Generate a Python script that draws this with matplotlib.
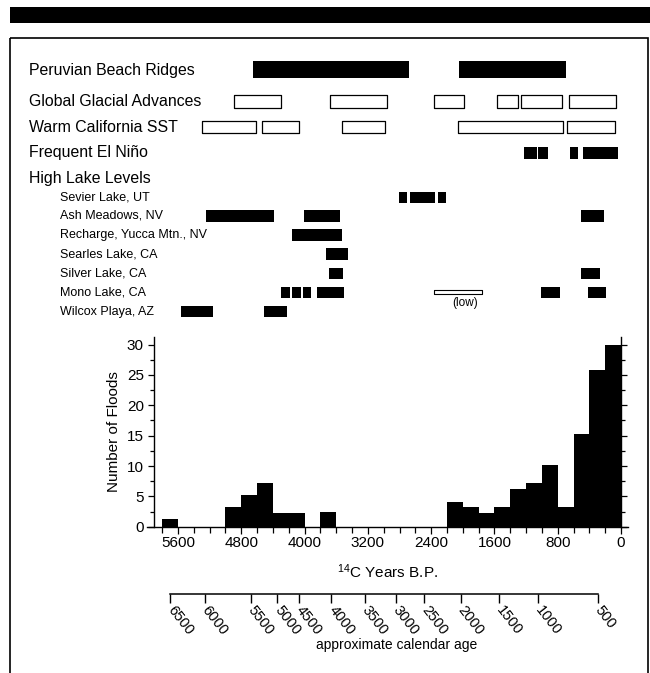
import matplotlib
matplotlib.use('Agg')
import matplotlib.pyplot as plt
from matplotlib.patches import Rectangle
from matplotlib.ticker import MultipleLocator, FixedLocator, FixedFormatter

plt.rcParams['font.family'] = ['Liberation Sans', 'DejaVu Sans']
plt.rcParams['mathtext.fontset'] = 'custom'
plt.rcParams['mathtext.rm'] = 'Liberation Sans'
plt.rcParams['mathtext.it'] = 'Liberation Sans:italic'

# ---------------- data ----------------
# histogram of floods, 200-yr bins (younger edge, 14C yr BP)
bin_young = [5600, 5400, 5200, 5000, 4800, 4600, 4400, 4200, 4000, 3800,
             3600, 3400, 3200, 3000, 2800, 2600, 2400, 2200, 2000, 1800,
             1600, 1400, 1200, 1000, 800, 600, 400, 200, 0]
flood_counts = [1.3, 0, 0, 0, 3.3, 5.3, 7.2, 2.3, 2.3, 0,
                2.4, 0, 0, 0, 0, 0, 0, 0, 4.1, 3.2,
                2.3, 3.2, 6.2, 7.2, 10.1, 3.3, 15.2, 25.8, 30.0]
bin_width = 200

x_ticks_major = [5600, 4800, 4000, 3200, 2400, 1600, 800, 0]

# calendar-age axis: label and its position on the 14C scale
cal_ages = [6500, 6000, 5500, 5000, 4500, 4000, 3500, 3000, 2500, 2000, 1500, 1000, 500]
cal_pos_14c = [5700, 5260, 4680, 4345, 4070, 3660, 3235, 2845, 2485, 2025, 1540, 1045, 295]

# climate records (start, end) in 14C yr BP
peru_beach = [(4650, 2675), (2045, 695)]
glacial_adv = [(4890, 4300), (3680, 2955), (2360, 1980), (1570, 1305), (1265, 750), (655, 65)]
warm_sst = [(5300, 4615), (4540, 4065), (3530, 2985), (2055, 730), (685, 75)]
el_nino = [(1225, 1065), (1045, 920), (645, 540), (475, 35)]

sevier = [(2805, 2710), (2670, 2350), (2310, 2210)]
ash_meadows = [(5245, 4385), (4010, 3550), (510, 215)]
recharge_yucca = [(4165, 3530)]
searles = [(3730, 3455)]
silver = [(3690, 3510), (510, 265)]
mono_high = [(4300, 4185), (4155, 4045), (4015, 3925), (3845, 3500), (1015, 770), (415, 190)]
mono_low = [(2360, 1755)]
wilcox = [(5565, 5155), (4515, 4220)]

main_labels = ["Peruvian Beach Ridges", "Global Glacial Advances",
               "Warm California SST", "Frequent El Niño", "High Lake Levels"]
lake_labels = ["Sevier Lake, UT", "Ash Meadows, NV", "Recharge, Yucca Mtn., NV",
               "Searles Lake, CA", "Silver Lake, CA", "Mono Lake, CA", "Wilcox Playa, AZ"]

# ---------------- layout ----------------
W, H = 650, 673
X0_PX, PX_PER_YR = 621.0, 443.0 / 5600.0


def yr_at(px):
    return (X0_PX - px) / PX_PER_YR


def fx(px):
    return px / W


def fy(py):
    return 1 - py / H


fig = plt.figure(figsize=(6.5, 6.73), dpi=100)

# background layout axes in pixel units
ax_bg = fig.add_axes([0, 0, 1, 1])
ax_bg.set_xlim(0, W)
ax_bg.set_ylim(H, 0)
ax_bg.axis('off')
ax_bg.add_patch(Rectangle((10, 7), 640, 16, facecolor='black', edgecolor='none'))
ax_bg.add_patch(Rectangle((10, 37.7), 638, 660, facecolor='none', edgecolor='black',
                          linewidth=1.2, clip_on=False))

main_y = [70, 101.5, 127, 153, 179]
for lab, yy in zip(main_labels, main_y):
    ax_bg.text(29, yy, lab, fontsize=11.4, va='center', ha='left')
lake_y = [197.5, 216, 235.2, 254.2, 273.5, 292.5, 311.7]
for lab, yy in zip(lake_labels, lake_y):
    ax_bg.text(60, yy, lab, fontsize=9, va='center', ha='left')
ax_bg.text(465, 303, "(low)", fontsize=8.5, va='center', ha='center')

# timeline axes: x in 14C years, y in pixels
ax_tl = fig.add_axes([0, 0, 1, 1])
ax_tl.set_xlim(yr_at(0), yr_at(W))
ax_tl.set_ylim(H, 0)
ax_tl.axis('off')


def draw_row(spans, yc, h, filled=True, lw=0.9):
    segs = [(b, a - b) for a, b in spans]
    if filled:
        ax_tl.broken_barh(segs, (yc - h / 2, h), facecolors='black', edgecolors='none')
    else:
        ax_tl.broken_barh(segs, (yc - h / 2, h), facecolors='white',
                          edgecolors='black', linewidth=lw)


draw_row(peru_beach, 69.3, 16.5)
draw_row(glacial_adv, 101.7, 13.0, filled=False)
draw_row(warm_sst, 127.0, 12.5, filled=False)
draw_row(el_nino, 152.8, 12.3)
draw_row(sevier, 197.5, 11.6)
draw_row(ash_meadows, 215.8, 11.6)
draw_row(recharge_yucca, 235.2, 11.6)
draw_row(searles, 254.2, 11.6)
draw_row(silver, 273.5, 11.6)
draw_row(mono_high, 292.5, 11.6)
draw_row(mono_low, 292.2, 4.3, filled=False, lw=0.8)
draw_row(wilcox, 311.7, 10.5)

# histogram axes
hb, ht = 526.7, 336.7
ax_h = fig.add_axes([fx(147), fy(hb), fx(628) - fx(147), (hb - ht) / H])
ax_h.bar(bin_young, flood_counts, width=bin_width, align='edge', color='black', linewidth=0)
ax_h.set_xlim(yr_at(147), yr_at(628))
ax_h.set_ylim(0, (hb - ht) / 6.07)
ax_h.spines['top'].set_visible(False)
ax_h.spines['left'].set_position(('data', 5900))
ax_h.spines['right'].set_position(('data', 0))
for s in ['left', 'right', 'bottom']:
    ax_h.spines[s].set_linewidth(1.0)
ax_h.xaxis.set_major_locator(FixedLocator(x_ticks_major))
ax_h.xaxis.set_minor_locator(MultipleLocator(200))
ax_h.yaxis.set_major_locator(MultipleLocator(5))
ax_h.yaxis.set_minor_locator(MultipleLocator(2.5))
ax_h.tick_params(axis='x', which='major', direction='out', length=5, width=0.9,
                 labelsize=11, pad=1.5)
ax_h.tick_params(axis='x', which='minor', direction='out', length=4, width=0.9)
ax_h.tick_params(axis='y', which='both', left=True, right=True, direction='out',
                 labelsize=11, width=0.9)
ax_h.tick_params(axis='y', which='major', length=4.5, pad=3)
ax_h.tick_params(axis='y', which='minor', length=3)
ax_h.set_ylabel("Number of Floods", fontsize=11, labelpad=4)
fig.text(fx(388), fy(572), r"$^{14}$C Years B.P.", fontsize=11, ha='center', va='center')

# calendar age axis
ax_c = fig.add_axes([fx(147), fy(594), fx(628) - fx(147), 0.001])
ax_c.set_xlim(yr_at(147), yr_at(628))
for s in ['left', 'right', 'top']:
    ax_c.spines[s].set_visible(False)
ax_c.spines['bottom'].set_bounds(max(cal_pos_14c), min(cal_pos_14c))
ax_c.spines['bottom'].set_linewidth(1.1)
ax_c.set_yticks([])
ax_c.xaxis.set_major_locator(FixedLocator(cal_pos_14c))
ax_c.xaxis.set_major_formatter(FixedFormatter([str(c) for c in cal_ages]))
ax_c.tick_params(axis='x', direction='out', length=6.5, width=1.0, labelsize=10.5, pad=3)
for lbl in ax_c.get_xticklabels():
    lbl.set_rotation(-52)
    lbl.set_rotation_mode('anchor')
    lbl.set_ha('left')
    lbl.set_va('center')
fig.text(fx(397), fy(645), "approximate calendar age", fontsize=10, ha='center', va='center')

fig.savefig('out.png', dpi=100)
